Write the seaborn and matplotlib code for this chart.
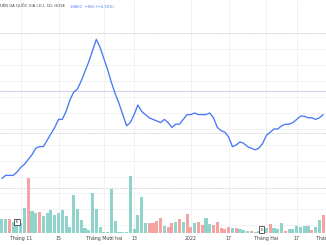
import matplotlib
matplotlib.use("Agg")
import matplotlib.pyplot as plt
import matplotlib.transforms as mtrans
import seaborn as sns
import pandas as pd

# ---------------- data ----------------
days = list(range(86))
price = [22450, 22550, 22550, 22550, 22650, 22800, 22900, 23050, 23200, 23400,
         23450, 23450, 23650, 23850, 24050, 24300, 24300, 24550, 24900, 25150,
         25250, 25500, 25800, 26100, 26450, 26800, 26550, 26200, 25850, 25450,
         25100, 24800, 24450, 24100, 24200, 24450, 24750, 24550, 24450, 24350,
         24300, 24250, 24200, 24300, 24200, 24050, 24150, 24150, 24300, 24450,
         24450, 24500, 24450, 24450, 24450, 24500, 24350, 24050, 23950, 23900,
         23750, 23450, 23500, 23600, 23550, 23450, 23400, 23350, 23400, 23550,
         23800, 23900, 24000, 24000, 24100, 24150, 24150, 24200, 24300, 24400,
         24400, 24350, 24350, 24300, 24350, 24450]
volume = [280, 280, 280, 220, 240, 200, 500, 1100, 440, 400,
          420, 340, 400, 460, 360, 400, 460, 340, 120, 760,
          480, 260, 100, 60, 800, 480, 120, 20, 20, 880,
          240, 20, 20, 20, 1140, 80, 360, 720, 200, 200,
          200, 240, 300, 140, 120, 200, 220, 280, 220, 380,
          120, 200, 220, 160, 300, 180, 160, 220, 100, 80,
          120, 100, 100, 80, 60, 40, 40, 20, 40, 60,
          100, 180, 100, 80, 200, 40, 80, 80, 140, 120,
          140, 140, 60, 120, 260, 360]
direction = ["u", "u", "d", "u", "u", "u", "u", "d", "u", "u",
             "d", "u", "u", "u", "u", "u", "u", "u", "u", "u",
             "u", "u", "u", "u", "u", "u", "u", "u", "u", "u",
             "u", "u", "u", "u", "u", "u", "u", "u", "u", "d",
             "d", "d", "d", "u", "d", "d", "u", "d", "u", "d",
             "d", "u", "d", "d", "u", "u", "d", "d", "d", "d",
             "d", "u", "d", "u", "u", "u", "d", "u", "u", "u",
             "u", "d", "u", "u", "u", "d", "u", "u", "u", "u",
             "u", "u", "d", "u", "u", "d"]
tick_days = [5, 15, 27, 35, 50, 60, 70, 78, 86]
tick_labels = ["Tháng 11", "15", "Tháng Mười hai", "13", "2022", "17",
               "Tháng Hai", "17", "Tháng Ba"]
event_days = [4, 68.7]
event_levels = [220, 70]
title_left = "RIỂN GA QUỐC GIA I.D.I, 1D, HOSE"
title_right = "18800  −850 (−4.74%)"

# ---------------- style ----------------
sns.set_theme(style="white")
plt.rcParams["font.family"] = ["DejaVu Sans"]

teal = "#8fd3ca"
red = "#f5a3a1"
blue = "#4a78f4"

fig = plt.figure(figsize=(3.26, 2.45), dpi=100)
fig.patch.set_facecolor("white")
rect = [0, 12 / 245, 1, 233 / 245]
ax_grid = fig.add_axes(rect)
ax_vol = fig.add_axes(rect)
ax_line = fig.add_axes(rect)

xlim = (-0.476, 85.75)
plim = (20750, 28031.25)

# grid layer
ax_grid.set_xlim(xlim)
ax_grid.set_ylim(plim)
for p in range(21000, 27001, 500):
    ax_grid.axhline(p, color="#eff0f3", lw=0.6, zorder=0)
for p in [27000, 23880, 22150]:
    ax_grid.axhline(p, color="#d9d9d9", lw=0.7, ls=(0, (2, 1)), zorder=1)
ax_grid.axhline(25190, color="#d0d5f8", lw=0.8, zorder=1)
for d in tick_days:
    ax_grid.axvline(d, color="#eff0f3", lw=0.6, zorder=0)
ax_grid.axis("off")

# volume layer
df = pd.DataFrame({"day": days, "price": price, "volume": volume, "dir": direction})
sns.barplot(data=df, x="day", y="volume", hue="dir", palette={"u": teal, "d": red},
            dodge=False, width=0.82, saturation=1, legend=False, linewidth=0,
            ax=ax_vol)
ax_vol.set_xlim(xlim)
ax_vol.set_ylim(0, 233 * 20)
ax_vol.patch.set_visible(False)
ax_vol.axis("off")
for d, lv in zip(event_days, event_levels):
    ax_vol.text(d, lv, "E", fontsize=2.8, ha="center", va="center", color="#333",
                bbox=dict(boxstyle="square,pad=0.35", fc="white", ec="#444", lw=0.6))

# price line layer
sns.lineplot(data=df, x="day", y="price", color=blue, lw=0.95, ax=ax_line)
ax_line.set_xlim(xlim)
ax_line.set_ylim(plim)
ax_line.patch.set_visible(False)
ax_line.axis("off")

# x labels
trans = mtrans.blended_transform_factory(ax_grid.transData, fig.transFigure)
for d, lab in zip(tick_days, tick_labels):
    ax_grid.text(d, 1 - 238.5 / 245, lab, transform=trans, fontsize=3.4, ha="center",
                 va="center", color="#404040", clip_on=False)

# title
fig.text(-0.003, 1 - 6.5 / 245, title_left, fontsize=2.7, ha="left", va="center",
         color="#404040")
fig.text(70 / 326, 1 - 6.5 / 245, title_right, fontsize=2.7, ha="left", va="center",
         color=blue)

fig.savefig("out.png", dpi=100, facecolor="white")
